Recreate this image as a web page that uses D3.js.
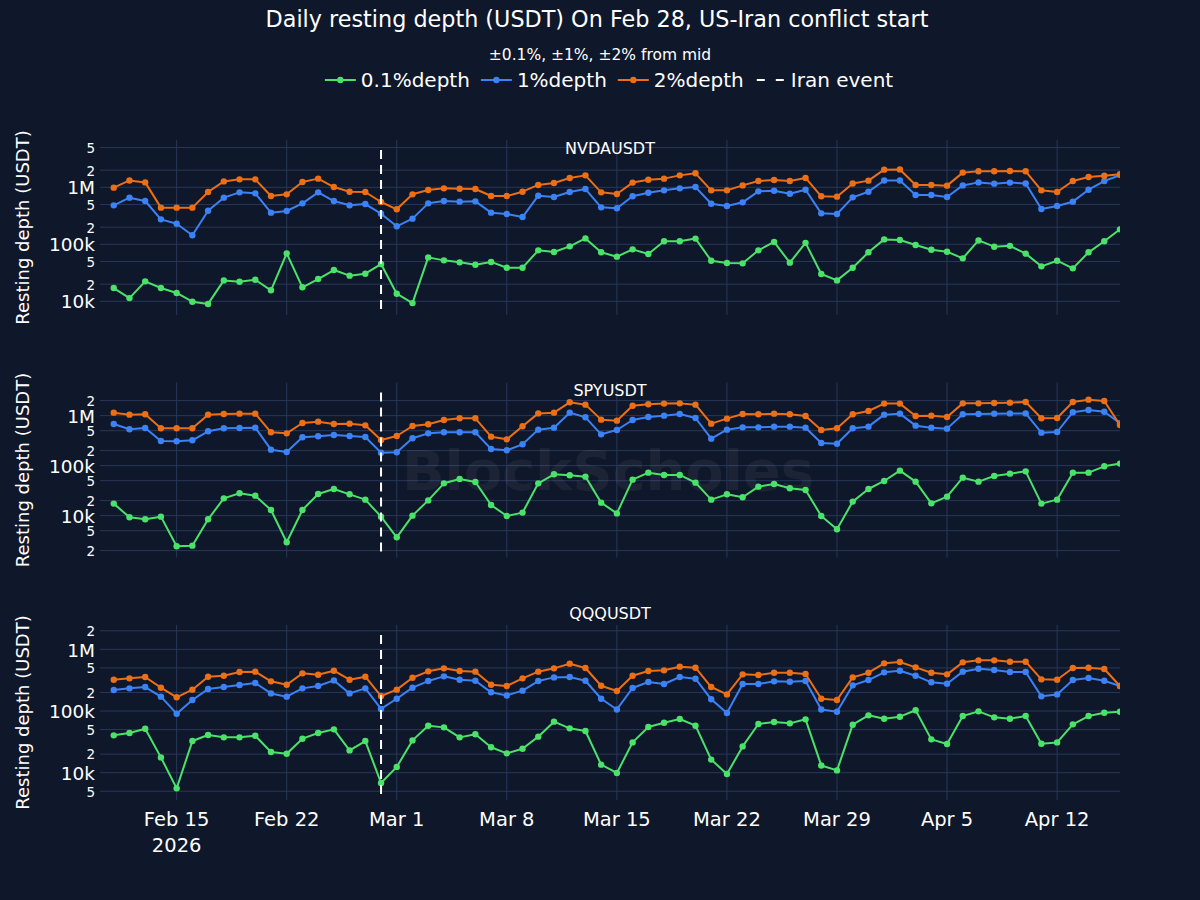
<!DOCTYPE html>
<html>
<head>
<meta charset="utf-8">
<script src="https://cdn.jsdelivr.net/npm/d3@7"></script>
<style>
  body { margin: 0; background: #0f172a; }
  svg { display: block; }
  text { font-family: "DejaVu Sans", Verdana, sans-serif; fill: #ffffff; }
</style>
</head>
<body>
<svg width="1200" height="900"></svg>
<script>
// ---- data (daily, Feb 11 .. Apr 16 2026) ----
var firstDay = "2026-02-11", lastDay = "2026-04-16";
var eventDay = "2026-02-28";
var symbols = ["NVDAUSDT", "SPYUSDT", "QQQUSDT"];
var seriesNames = ["0.1%depth", "1%depth", "2%depth"];
var tickDays = ["2026-02-15", "2026-02-22", "2026-03-01", "2026-03-08", "2026-03-15",
  "2026-03-22", "2026-03-29", "2026-04-05", "2026-04-12"];

var nvdaDepth01 = [17100, 11400, 22400, 17100, 14000, 9850, 9000, 23300, 22100, 23900, 15600, 69400, 17600, 24600, 35400, 28200, 30500, 45100,
  13600, 9300, 59000, 52300, 48300, 43900, 49100, 38900, 38900, 78400, 73300, 92100, 127000, 72400, 60700, 81600, 67600, 113000, 113000, 126000,
  51600, 47000, 46400, 78400, 110000, 47700, 106000, 30100, 23300, 38900, 72400,
  122000, 119000, 97200, 80500, 74200, 56700, 117000, 90900, 94000, 68700, 41100, 51600, 37900, 72400, 113000, 183000];
var nvdaDepth1 = [483000, 658000, 575000, 274000, 230000, 144000, 389000, 658000, 816000, 784000, 359000, 384000, 523000, 816000, 575000, 483000, 509000, 345000,
  207000, 282000, 523000, 575000, 560000, 567000, 359000, 340000, 301000, 713000, 676000, 827000, 933000, 445000, 428000, 695000, 805000, 885000, 959000, 1010000,
  516000, 470000, 545000, 850000, 871000, 773000, 908000, 349000, 340000, 667000, 838000,
  1320000, 1320000, 733000, 733000, 676000, 1080000, 1220000, 1160000, 1210000, 1170000, 416000, 470000, 560000, 908000, 1290000, 1640000];
var nvdaDepth2 = [986000, 1320000, 1220000, 440000, 440000, 440000, 827000, 1270000, 1380000, 1380000, 703000, 753000, 1240000, 1420000, 1010000, 838000, 827000, 552000,
  411000, 753000, 897000, 959000, 946000, 933000, 703000, 703000, 838000, 1100000, 1190000, 1460000, 1620000, 816000, 763000, 1210000, 1360000, 1420000, 1620000, 1760000,
  885000, 885000, 1080000, 1290000, 1340000, 1290000, 1460000, 695000, 686000, 1170000, 1310000,
  2040000, 2060000, 1100000, 1100000, 1070000, 1810000, 1910000, 1910000, 1930000, 1910000, 885000, 827000, 1290000, 1520000, 1600000, 1690000];

var spyDepth01 = [17400, 9260, 8450, 9550, 2440, 2510, 8450, 22200, 28000, 25100, 13000, 2930, 13000, 27100, 34100, 26700, 20900, 9550,
  3690, 10000, 20200, 44300, 54100, 47200, 16300, 9850, 11500, 44300, 67100, 64100, 60300, 18200, 11100, 52500, 72400, 65100, 65100, 45700,
  20900, 26700, 23300, 38000, 43000, 35200, 32600, 9850, 5330, 19100, 34100,
  49400, 79400, 47900, 17600, 24000, 57500, 47900, 62200, 69200, 77000, 17400, 20900, 72400, 72400, 97000, 110000];
var spyDepth1 = [681000, 533000, 567000, 311000, 307000, 321000, 486000, 558000, 567000, 575000, 209000, 188000, 369000, 386000, 411000, 392000, 375000, 182000,
  185000, 352000, 443000, 464000, 464000, 464000, 215000, 203000, 267000, 525000, 575000, 1148000, 926000, 423000, 517000, 819000, 940000, 1000000, 1080000, 898000,
  347000, 525000, 584000, 584000, 603000, 603000, 575000, 284000, 275000, 558000, 603000,
  1047000, 1096000, 631000, 575000, 550000, 1063000, 1080000, 1096000, 1110000, 1110000, 457000, 471000, 1170000, 1300000, 1200000, 703000];
var spyDepth2 = [1148000, 1047000, 1063000, 558000, 558000, 558000, 1047000, 1080000, 1096000, 1096000, 464000, 443000, 713000, 759000, 681000, 692000, 640000, 326000,
  392000, 621000, 671000, 819000, 885000, 885000, 380000, 336000, 612000, 1110000, 1148000, 1850000, 1660000, 832000, 794000, 1580000, 1690000, 1740000, 1760000, 1660000,
  692000, 871000, 1080000, 1063000, 1096000, 1063000, 985000, 517000, 558000, 1063000, 1240000,
  1740000, 1740000, 985000, 1000000, 940000, 1760000, 1760000, 1790000, 1820000, 1880000, 885000, 898000, 1880000, 2090000, 1970000, 651000];

var qqqDepth01 = [40300, 44000, 51700, 17700, 5570, 32600, 40800, 37400, 37400, 39800, 21600, 20300, 35600, 44000, 50400, 23000, 32600, 6800,
  12400, 33400, 57800, 54300, 37400, 41900, 25800, 20600, 24500, 38400, 67200, 52400, 47400, 13500, 9900, 31000, 55000, 64700, 74200, 57800,
  16300, 9500, 26700, 61500, 66300, 63100, 73300, 13100, 10900, 60000, 85100,
  75100, 80900, 103000, 34700, 29200, 83000, 98800, 78900, 75100, 83000, 29500, 31000, 60800, 83000, 94000, 97500];
var qqqDepth1 = [219000, 233000, 245000, 171000, 90500, 151000, 227000, 245000, 264000, 285000, 193000, 171000, 233000, 254000, 314000, 193000, 233000, 108000,
  158000, 239000, 306000, 365000, 322000, 310000, 201000, 179000, 214000, 306000, 351000, 356000, 310000, 158000, 106000, 236000, 295000, 274000, 356000, 334000,
  155000, 92800, 274000, 274000, 303000, 299000, 306000, 106000, 97500, 261000, 318000,
  424000, 451000, 374000, 292000, 277000, 435000, 486000, 462000, 429000, 429000, 173000, 186000, 318000, 343000, 310000, 254000];
var qqqDepth2 = [322000, 339000, 356000, 239000, 167000, 222000, 360000, 374000, 429000, 435000, 303000, 267000, 408000, 388000, 451000, 322000, 360000, 175000,
  222000, 347000, 440000, 492000, 445000, 435000, 267000, 254000, 339000, 435000, 492000, 586000, 498000, 257000, 211000, 374000, 445000, 457000, 524000, 504000,
  245000, 186000, 393000, 384000, 418000, 418000, 398000, 158000, 151000, 351000, 418000,
  593000, 623000, 511000, 418000, 393000, 616000, 663000, 663000, 631000, 631000, 326000, 322000, 498000, 504000, 480000, 254000];

// ---- layout ----
var svg = d3.select("svg");
var W = 1200, H = 900;
var left = 100, right = 1120;
var panelTops = [140, 382.5, 625], panelH = 175;
var yLogRange = [[3.76, 6.83], [3.163, 6.663], [3.557, 6.395]];
var subTitleY = [154, 396, 619];
var colors = ["#4be26a", "#3b82f6", "#ec6f15"];
var gridColor = "#283859";

svg.append("rect").attr("width", W).attr("height", H).attr("fill", "#0f172a");

var parseDay = d3.utcParse("%Y-%m-%d");
var days = d3.utcDay.range(parseDay(firstDay), d3.utcDay.offset(parseDay(lastDay), 1));
var panelData = [
  [nvdaDepth01, nvdaDepth1, nvdaDepth2],
  [spyDepth01, spyDepth1, spyDepth2],
  [qqqDepth01, qqqDepth1, qqqDepth2]
];

var x = d3.scaleUtc()
  .domain([d3.utcHour.offset(parseDay(firstDay), -21), parseDay(lastDay)])
  .range([left, right]);

function fmtMajor(v) {
  if (v >= 1e6) return (v / 1e6) + "M";
  if (v >= 1e3) return (v / 1e3) + "k";
  return String(v);
}
function mantissa(v) {
  return Math.round(v / Math.pow(10, Math.floor(Math.log10(v) + 1e-9)));
}

svg.append("defs").append("clipPath").attr("id", "clipAll")
  .append("rect").attr("x", left - 4).attr("y", 0).attr("width", right - left + 4).attr("height", H);

symbols.forEach(function (sym, p) {
  var top = panelTops[p], bottom = top + panelH;
  var y = d3.scaleLog()
    .domain([Math.pow(10, yLogRange[p][0]), Math.pow(10, yLogRange[p][1])])
    .range([bottom, top]);
  var g = svg.append("g");

  // tick values 1,2,5 x 10^k inside range
  var ticks = [];
  for (var k = 3; k <= 7; k++) {
    [1, 2, 5].forEach(function (m) {
      var v = m * Math.pow(10, k);
      if (v >= y.domain()[0] && v <= y.domain()[1]) ticks.push(v);
    });
  }

  // grid
  g.selectAll(".hg").data(ticks).enter().append("line")
    .attr("x1", left).attr("x2", right)
    .attr("y1", function (d) { return y(d); }).attr("y2", function (d) { return y(d); })
    .attr("stroke", gridColor).attr("stroke-width", 1);
  g.selectAll(".vg").data(tickDays).enter().append("line")
    .attr("x1", function (d) { return x(parseDay(d)); }).attr("x2", function (d) { return x(parseDay(d)); })
    .attr("y1", top).attr("y2", bottom)
    .attr("stroke", gridColor).attr("stroke-width", 1);

  // y axis
  var yAxis = d3.axisLeft(y).tickValues(ticks).tickSize(0).tickPadding(0)
    .tickFormat(function (d) {
      return mantissa(d) === 1 ? fmtMajor(d) : String(mantissa(d));
    });
  var ax = g.append("g").attr("transform", "translate(95,0)").call(yAxis);
  ax.select(".domain").remove();
  ax.selectAll("text")
    .attr("fill", "#ffffff")
    .attr("dy", "0.36em")
    .style("font-family", "'DejaVu Sans', Verdana, sans-serif")
    .style("font-size", function (d) { return mantissa(d) === 1 ? "18.5px" : "13.5px"; });

  // axis title
  g.append("text")
    .attr("transform", "translate(23," + (top + panelH / 2) + ") rotate(-90)")
    .attr("text-anchor", "middle").attr("dy", "0.35em")
    .style("font-size", "18px")
    .text("Resting depth (USDT)");

  // watermark behind the middle panel
  if (p === 1) {
    g.append("text")
      .attr("x", 608).attr("y", 490)
      .attr("text-anchor", "middle")
      .attr("textLength", 412)
      .style("font-size", "56px").style("font-weight", "bold")
      .style("fill", "#c0c4cc").style("fill-opacity", 0.07)
      .text("BlockScholes");
  }

  // subplot title
  g.append("text")
    .attr("x", (left + right) / 2).attr("y", subTitleY[p])
    .attr("text-anchor", "middle")
    .style("font-size", "16px")
    .text(sym);

  // series
  var plot = g.append("g").attr("clip-path", "url(#clipAll)");
  var line = d3.line()
    .x(function (d, i) { return x(days[i]); })
    .y(function (d) { return y(d); });
  panelData[p].forEach(function (vals, s) {
    plot.append("path").datum(vals)
      .attr("d", line)
      .attr("fill", "none")
      .attr("stroke", colors[s]).attr("stroke-width", 2)
      .attr("stroke-linejoin", "round");
    plot.selectAll(".pt" + s).data(vals).enter().append("circle")
      .attr("cx", function (d, i) { return x(days[i]); })
      .attr("cy", function (d) { return y(d); })
      .attr("r", 3.2)
      .attr("fill", colors[s]);
  });

  // event marker
  var ex = x(parseDay(eventDay));
  g.append("line")
    .attr("x1", ex).attr("x2", ex)
    .attr("y1", top + 10).attr("y2", bottom)
    .attr("stroke", "#ffffff").attr("stroke-width", 2)
    .attr("stroke-dasharray", "9,6");

  // x tick labels on the last panel only
  if (p === symbols.length - 1) {
    var fmt = d3.utcFormat("%b %-d");
    g.selectAll(".xt").data(tickDays).enter().append("text")
      .attr("x", function (d) { return x(parseDay(d)); })
      .attr("y", bottom + 26)
      .attr("text-anchor", "middle")
      .style("font-size", "19.5px")
      .text(function (d) { return fmt(parseDay(d)); });
    g.append("text")
      .attr("x", x(parseDay(tickDays[0]))).attr("y", bottom + 51.5)
      .attr("text-anchor", "middle")
      .style("font-size", "19.5px")
      .text(d3.utcFormat("%Y")(parseDay(tickDays[0])));
  }
});

// ---- title, subtitle ----
svg.append("text")
  .attr("x", 597).attr("y", 27)
  .attr("text-anchor", "middle")
  .style("font-size", "22.3px")
  .text("Daily resting depth (USDT) On Feb 28, US-Iran conflict start");
svg.append("text")
  .attr("x", 600).attr("y", 60)
  .attr("text-anchor", "middle")
  .style("font-size", "15.5px")
  .text("±0.1%, ±1%, ±2% from mid");

// ---- legend ----
var legendItems = seriesNames.map(function (n, i) { return { name: n, color: colors[i], dash: false }; })
  .concat([{ name: "Iran event", color: "#ffffff", dash: true }]);
var lg = svg.append("g");
var lx = 0;
legendItems.forEach(function (it) {
  var ig = lg.append("g").attr("transform", "translate(" + lx + ",0)");
  if (it.dash) {
    ig.append("line").attr("x1", 0).attr("x2", 31).attr("y1", 0).attr("y2", 0)
      .attr("stroke", it.color).attr("stroke-width", 2).attr("stroke-dasharray", "8,11").attr("stroke-dashoffset", -2);
  } else {
    ig.append("line").attr("x1", 0).attr("x2", 31).attr("y1", 0).attr("y2", 0)
      .attr("stroke", it.color).attr("stroke-width", 2);
    ig.append("circle").attr("cx", 15.5).attr("cy", 0).attr("r", 3.2).attr("fill", it.color);
  }
  var t = ig.append("text").attr("x", 36).attr("dy", "0.35em")
    .style("font-size", "20px").text(it.name);
  lx += 36 + t.node().getComputedTextLength() + 11;
});
var lw = lx - 11;
lg.attr("transform", "translate(" + (609 - lw / 2) + ",80)");
</script>
</body>
</html>
